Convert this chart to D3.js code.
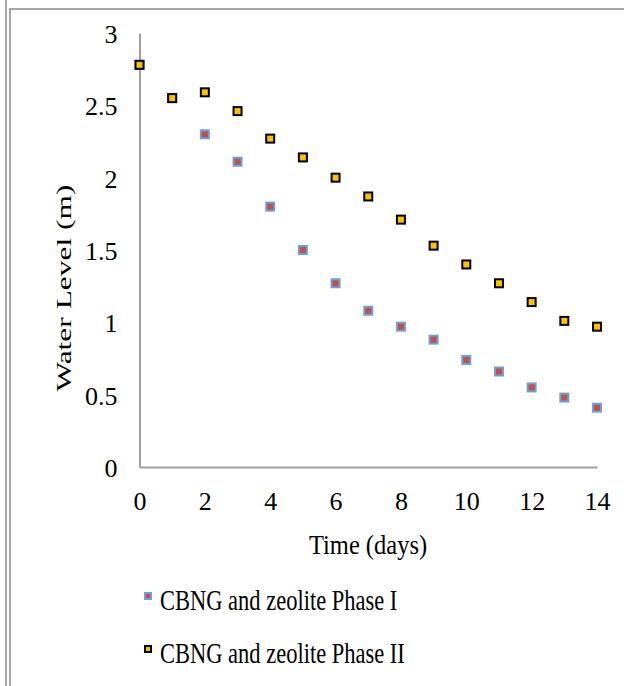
<!DOCTYPE html>
<html>
<head>
<meta charset="utf-8">
<script src="https://cdn.jsdelivr.net/npm/d3@7"></script>
<style>
  body { margin: 0; background: #fff; }
  text { font-family: "Liberation Serif", "Times New Roman", serif; fill: #000; }
</style>
</head>
<body>
<svg id="chart" width="624" height="686"></svg>
<script>
// Water level over time, two treatment phases
var days = [0, 1, 2, 3, 4, 5, 6, 7, 8, 9, 10, 11, 12, 13, 14];
var phaseOne = [2.78, 2.55, 2.30, 2.11, 1.80, 1.50, 1.27, 1.08, 0.97, 0.88, 0.74, 0.66, 0.55, 0.48, 0.41];
var phaseTwo = [2.78, 2.55, 2.59, 2.46, 2.27, 2.14, 2.00, 1.87, 1.71, 1.53, 1.40, 1.27, 1.14, 1.01, 0.97];
var xTicks = [0, 2, 4, 6, 8, 10, 12, 14];
var yTicks = [0, 0.5, 1, 1.5, 2, 2.5, 3];
var seriesNames = ["CBNG and zeolite Phase I", "CBNG and zeolite Phase II"];

var svg = d3.select("#chart");

// double frame lines round the picture
svg.append("line").attr("x1", 6).attr("x2", 6).attr("y1", 0).attr("y2", 686)
    .style("stroke", "#a6a6a6").style("stroke-width", 2);
svg.append("path").attr("d", "M10,686V9H624")
    .style("fill", "none").style("stroke", "#a6a6a6").style("stroke-width", 2);

var x = d3.scaleLinear().domain([0, 14]).range([139.5, 597]);
var y = d3.scaleLinear().domain([0, 3]).range([467, 33]);

// axes: grey lines, no tick marks
var xAxis = svg.append("g").attr("transform", "translate(0,467)")
    .call(d3.axisBottom(x).tickValues(xTicks).tickSize(0).tickPadding(25).tickFormat(d3.format("")));
var yAxis = svg.append("g").attr("transform", "translate(139.5,0)")
    .call(d3.axisLeft(y).tickValues(yTicks).tickSize(0).tickPadding(22).tickFormat(d3.format("")));

[xAxis, yAxis].forEach(function(g) {
    g.select(".domain").style("stroke", "#a0a0a0").style("stroke-width", 2);
    g.selectAll("text").style("font-size", "26px").style("font-family", "Liberation Serif");
});
yAxis.selectAll("text").attr("dy", "0.36em");

// rotated title runs long in the original, so stretch it to fit
svg.append("text")
    .attr("transform", "translate(71,288) rotate(-90)")
    .attr("text-anchor", "middle")
    .attr("textLength", 207)
    .attr("lengthAdjust", "spacingAndGlyphs")
    .style("font-size", "22px")
    .text("Water Level (m)");

svg.append("text")
    .attr("transform", "translate(368,554) scale(1,1.1)")
    .attr("text-anchor", "middle")
    .style("font-size", "24.5px")
    .text("Time (days)");

var styles = [
    { fill: "#c0504d", stroke: "#6f9fd8" },
    { fill: "#ffc000", stroke: "#000000" }
];

function drawSeries(values, st) {
    svg.append("g").selectAll("rect")
        .data(values)
        .enter()
        .append("rect")
        .attr("x", function(d, i) { return x(days[i]) - 4; })
        .attr("y", function(d) { return y(d) - 4; })
        .attr("width", 8)
        .attr("height", 8)
        .style("fill", st.fill)
        .style("stroke", st.stroke)
        .style("stroke-width", 2);
}

drawSeries(phaseOne, styles[0]);
drawSeries(phaseTwo, styles[1]);

// legend
var legend = svg.append("g").selectAll("g")
    .data(seriesNames)
    .enter()
    .append("g")
    .attr("transform", function(d, i) { return "translate(148," + (600 + i * 53) + ")"; });

legend.append("rect")
    .attr("x", -3).attr("y", -7).attr("width", 6).attr("height", 6)
    .style("fill", function(d, i) { return styles[i].fill; })
    .style("stroke", function(d, i) { return styles[i].stroke; })
    .style("stroke-width", 2);

legend.append("text")
    .attr("transform", "translate(12,10) scale(1,1.35)")
    .style("font-size", "22.5px")
    .text(function(d) { return d; });
</script>
</body>
</html>
